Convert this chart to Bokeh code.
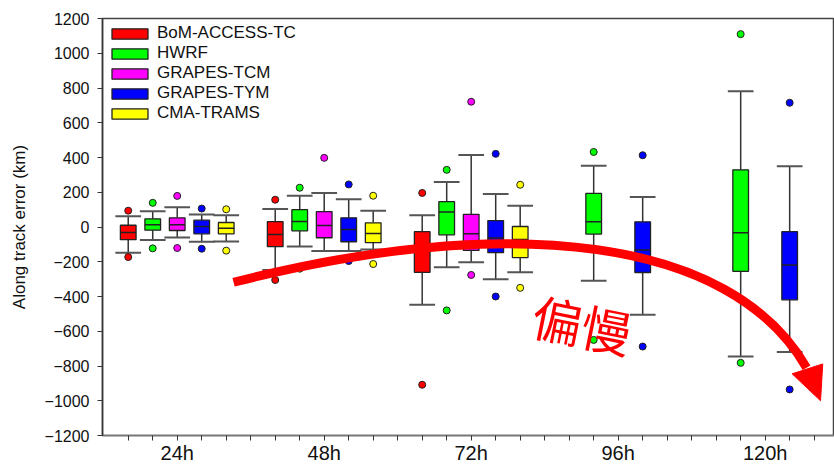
from bokeh.plotting import figure
from bokeh.models import Range1d, FixedTicker, Legend, LegendItem, ColumnDataSource
from bokeh.core.properties import value
from bokeh.embed import file_html
from bokeh.resources import INLINE

# ---------------- data ----------------
lead_times = ["24h", "48h", "72h", "96h", "120h"]
models = ["BoM-ACCESS-TC", "HWRF", "GRAPES-TCM", "GRAPES-TYM", "CMA-TRAMS"]
colors = ["#ff0000", "#00ff00", "#ff00ff", "#0000ff", "#ffff00"]

# along-track error statistics (km), one value per lead time; None = no forecast
lower_whisker = {
    "BoM-ACCESS-TC": [-148, -247, -448, None, None],
    "HWRF":          [-75, -112, -232, -310, -746],
    "GRAPES-TCM":    [-60, -138, -203, None, None],
    "GRAPES-TYM":    [-85, -138, -301, -505, -719],
    "CMA-TRAMS":     [-83, -130, -261, None, None],
}
q1 = {
    "BoM-ACCESS-TC": [-73, -113, -261, None, None],
    "HWRF":          [-18, -22, -45, -41, -255],
    "GRAPES-TCM":    [-20, -62, -135, None, None],
    "GRAPES-TYM":    [-39, -85, -148, -262, -419],
    "CMA-TRAMS":     [-39, -90, -176, None, None],
}
median = {
    "BoM-ACCESS-TC": [-31, -43, -135, None, None],
    "HWRF":          [13, 31, 87, 30, -33],
    "GRAPES-TCM":    [13, 9, -39, None, None],
    "GRAPES-TYM":    [3, -14, -64, -133, -219],
    "CMA-TRAMS":     [-7, -37, -72, None, None],
}
q3 = {
    "BoM-ACCESS-TC": [10, 31, -27, None, None],
    "HWRF":          [47, 100, 146, 194, 329],
    "GRAPES-TCM":    [53, 89, 73, None, None],
    "GRAPES-TYM":    [39, 53, 37, 30, -27],
    "CMA-TRAMS":     [26, 24, 3, None, None],
}
upper_whisker = {
    "BoM-ACCESS-TC": [62, 104, 68, None, None],
    "HWRF":          [90, 180, 259, 352, 782],
    "GRAPES-TCM":    [113, 196, 415, None, None],
    "GRAPES-TYM":    [72, 159, 190, 173, 350],
    "CMA-TRAMS":     [68, 94, 123, None, None],
}
outlier_low = {
    "BoM-ACCESS-TC": [-173, -305, -908, None, None],
    "HWRF":          [-123, -240, -480, -650, -782],
    "GRAPES-TCM":    [-121, None, -276, None, None],
    "GRAPES-TYM":    [-125, -196, -400, -688, -935],
    "CMA-TRAMS":     [-136, -213, -350, None, None],
}
outlier_high = {
    "BoM-ACCESS-TC": [94, 157, 196, None, None],
    "HWRF":          [139, 226, 329, 432, 1110],
    "GRAPES-TCM":    [179, 398, 721, None, None],
    "GRAPES-TYM":    [106, 245, 421, 413, 715],
    "CMA-TRAMS":     [102, 180, 243, None, None],
}

# annotation: curved arrow (data coordinates) and text
arrow_start = (5.30, -318)
arrow_ctrl1 = (16.73, 89)
arrow_ctrl2 = (25.62, -60)
arrow_end = (28.69, -810)
arrow_head_x = [28.10, 29.35, 29.26]
arrow_head_y = [-845, -788, -1000]
note_text = "偏慢"
note_pos = (19.54, -553)

# ---------------- layout helpers ----------------
slots_per_group = len(models) + 1
box_w = 0.64
cap_w = 1.05


def slot(g, m):
    return 1 + slots_per_group * g + m


FONT = "Liberation Sans"

p = figure(width=834, height=466,
           x_range=Range1d(-0.05, 29.83), y_range=Range1d(-1200, 1200),
           output_backend="svg", toolbar_location=None,
           min_border_left=102, min_border_right=0, min_border_top=18, min_border_bottom=0)

p.xgrid.visible = False
p.ygrid.visible = False
p.outline_line_color = "#444444"
p.outline_line_width = 1.5
p.background_fill_color = "white"
p.border_fill_color = "white"

# x axis
n_slots = slots_per_group * len(lead_times)
p.xaxis.ticker = FixedTicker(ticks=list(range(1, n_slots)))
overrides = {i: "" for i in range(1, n_slots)}
for g, lt in enumerate(lead_times):
    overrides[slot(g, len(models) // 2)] = lt
p.xaxis.major_label_overrides = overrides
p.xaxis.minor_tick_line_color = None
p.xaxis.major_tick_out = 5
p.xaxis.major_tick_in = 0
p.xaxis.major_label_standoff = 1
p.xaxis.axis_line_color = "#777777"
p.xaxis.axis_line_width = 1.5
p.xaxis.major_tick_line_color = "#333333"
p.xaxis.major_label_text_font = FONT
p.xaxis.major_label_text_font_size = "20px"
p.xaxis.major_label_text_color = "#111111"

# y axis
p.yaxis.ticker = FixedTicker(ticks=list(range(-1200, 1201, 200)))
p.yaxis.minor_tick_line_color = None
p.yaxis.major_tick_out = 5
p.yaxis.major_tick_in = 0
p.yaxis.major_label_standoff = 8
p.yaxis.axis_line_color = "#333333"
p.yaxis.axis_line_width = 1.5
p.yaxis.major_tick_line_color = "#333333"
p.yaxis.major_label_text_font = FONT
p.yaxis.major_label_text_font_size = "16px"
p.yaxis.major_label_text_color = "#111111"
p.yaxis.axis_label = "Along track error (km)"
p.yaxis.axis_label_text_font = FONT
p.yaxis.axis_label_text_font_size = "17px"
p.yaxis.axis_label_text_font_style = "normal"
p.yaxis.axis_label_text_color = "#111111"
p.yaxis.axis_label_standoff = 13

legend_items = []
for m, (name, col) in enumerate(zip(models, colors)):
    xs, lw, b1, md, b3, uw = [], [], [], [], [], []
    ox, oy = [], []
    for g in range(len(lead_times)):
        if median[name][g] is None:
            continue
        x = slot(g, m)
        xs.append(x)
        lw.append(lower_whisker[name][g])
        b1.append(q1[name][g])
        md.append(median[name][g])
        b3.append(q3[name][g])
        uw.append(upper_whisker[name][g])
        for o in (outlier_low[name][g], outlier_high[name][g]):
            if o is not None:
                ox.append(x)
                oy.append(o)
    src = ColumnDataSource(dict(
        x=xs, lw=lw, q1=b1, med=md, q3=b3, uw=uw,
        xl=[x - cap_w / 2 for x in xs], xr=[x + cap_w / 2 for x in xs],
        bl=[x - box_w / 2 for x in xs], br=[x + box_w / 2 for x in xs],
    ))
    # whiskers
    p.segment(x0="x", y0="lw", x1="x", y1="q1", source=src, line_color="#333333", line_width=1.5)
    p.segment(x0="x", y0="q3", x1="x", y1="uw", source=src, line_color="#333333", line_width=1.5)
    # caps
    p.segment(x0="xl", y0="lw", x1="xr", y1="lw", source=src, line_color="#555555", line_width=2)
    p.segment(x0="xl", y0="uw", x1="xr", y1="uw", source=src, line_color="#555555", line_width=2)
    # boxes
    r = p.vbar(x="x", width=box_w, bottom="q1", top="q3", source=src,
               fill_color=col, line_color="#222222", line_width=1.3)
    # medians
    p.segment(x0="bl", y0="med", x1="br", y1="med", source=src, line_color="#222222", line_width=1.5)
    # outliers
    p.scatter(x=ox, y=oy, size=7, marker="circle", fill_color=col, line_color="#222222", line_width=1)
    legend_items.append(LegendItem(label=name, renderers=[r]))

# curved arrow
p.bezier(x0=[arrow_start[0]], y0=[arrow_start[1]], x1=[arrow_end[0]], y1=[arrow_end[1]],
         cx0=[arrow_ctrl1[0]], cy0=[arrow_ctrl1[1]], cx1=[arrow_ctrl2[0]], cy1=[arrow_ctrl2[1]],
         line_color="#ff0000", line_width=9)
p.patch(x=arrow_head_x, y=arrow_head_y, fill_color="#ff0000", line_color="#ff0000", line_width=1)
p.text(x=[note_pos[0]], y=[note_pos[1]], text=[note_text], text_color="#ff0000",
       text_font=value("Noto Sans CJK SC"), text_font_size="50px", angle=-0.2,
       text_align="center", text_baseline="middle")

legend = Legend(items=legend_items, location="top_left", margin=5, padding=5,
                glyph_width=45, glyph_height=13, label_height=20, spacing=0,
                label_standoff=5, border_line_color=None, background_fill_alpha=0,
                label_text_font=FONT, label_text_font_size="17px", label_text_color="#111111")
p.add_layout(legend)

open("out.html", "w").write(file_html(p, INLINE))
